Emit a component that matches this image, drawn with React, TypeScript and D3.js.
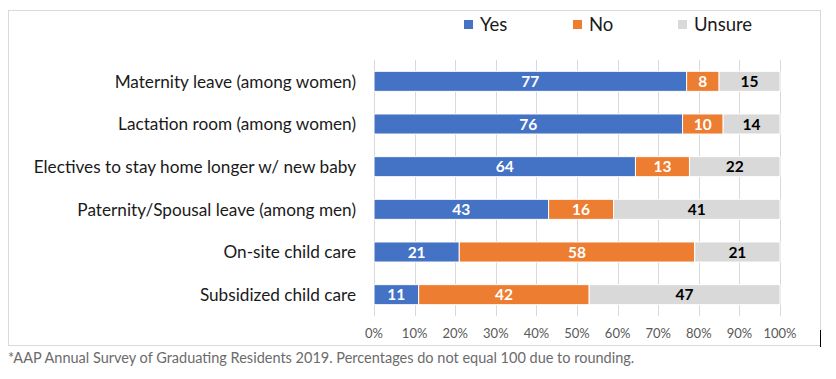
import React from "react";
import * as d3 from "d3";

const categories = [
  "Maternity leave (among women)",
  "Lactation room (among women)",
  "Electives to stay home longer w/ new baby",
  "Paternity/Spousal leave (among men)",
  "On-site child care",
  "Subsidized child care",
];
const yesValues = [77, 76, 64.4, 43, 21, 11];
const noValues = [8, 10, 13.3, 16, 58, 42];
const unsureValues = [15, 14, 22.3, 41, 21, 47];
const seriesNames = ["Yes", "No", "Unsure"];
const seriesColors = ["#4472C4", "#ED7D31", "#D9D9D9"];
const labelColors = ["#FFFFFF", "#FFFFFF", "#000000"];
const tickValues = [0, 10, 20, 30, 40, 50, 60, 70, 80, 90, 100];
const footnote =
  "*AAP Annual Survey of Graduating Residents 2019. Percentages do not equal 100 due to rounding.";

const W = 836;
const H = 379;
const FONT = "Lato, 'Open Sans', sans-serif";

export default function App() {
  const x = d3.scaleLinear().domain([0, 100]).range([374, 780]);
  const y = d3.scaleBand<string>().domain(categories).range([60, 316]).paddingInner(0.53).paddingOuter(0.265);

  const rows = categories.map((c, i) => ({
    cat: c,
    Yes: yesValues[i],
    No: noValues[i],
    Unsure: unsureValues[i],
  }));
  const stack = d3.stack<any>().keys(seriesNames);
  const layers = stack(rows);

  const legendX = [464, 573, 678];

  return (
    <svg width={W} height={H} style={{ position: "absolute", left: 0, top: 0 }}>
      <rect x={8.5} y={10.5} width={812} height={335} fill="#fff" stroke="#D9D9D9" strokeWidth={1} />
      {tickValues.map((t) => (
        <line key={t} x1={Math.round(x(t)) + 0.5} x2={Math.round(x(t)) + 0.5} y1={60} y2={316} stroke="#D9D9D9" strokeWidth={1} />
      ))}
      {layers.map((layer, si) => (
        <g key={layer.key}>
          {layer.map((d, i) => (
            <rect
              key={i}
              x={x(d[0])}
              y={y(categories[i])}
              width={x(d[1]) - x(d[0])}
              height={y.bandwidth()}
              fill={seriesColors[si]}
              stroke="#fff"
              strokeWidth={1}
            />
          ))}
          {layer.map((d, i) => (
            <text
              key={"t" + i}
              x={(x(d[0]) + x(d[1])) / 2}
              y={(y(categories[i]) as number) + y.bandwidth() / 2}
              dy="0.36em"
              textAnchor="middle"
              fontFamily={FONT}
              fontWeight="bold"
              fontSize={15.5}
              fill={labelColors[si]}
            >
              {Math.round(d[1] - d[0])}
            </text>
          ))}
        </g>
      ))}
      {categories.map((c) => (
        <text
          key={c}
          x={356}
          y={(y(c) as number) + y.bandwidth() / 2}
          dy="0.36em"
          textAnchor="end"
          fontFamily={FONT}
          fontSize={17.2}
          fill="#1a1a1a"
        >
          {c}
        </text>
      ))}
      {tickValues.map((t) => (
        <text key={"tk" + t} x={x(t)} y={338} textAnchor="middle" fontFamily={FONT} fontSize={13} fill="#595959">
          {t + "%"}
        </text>
      ))}
      {seriesNames.map((s, i) => (
        <g key={s}>
          <rect x={legendX[i]} y={20} width={9} height={9} fill={seriesColors[i]} />
          <text x={legendX[i] + 16} y={30.5} fontFamily={FONT} fontSize={18.5} fill="#1a1a1a">
            {s}
          </text>
        </g>
      ))}
      <line x1={820.5} x2={820.5} y1={330} y2={347} stroke="#000" strokeWidth={1} />
      <text x={8} y={363} fontFamily={FONT} fontSize={14.5} fill="#6b6b6b">
        {footnote}
      </text>
    </svg>
  );
}
